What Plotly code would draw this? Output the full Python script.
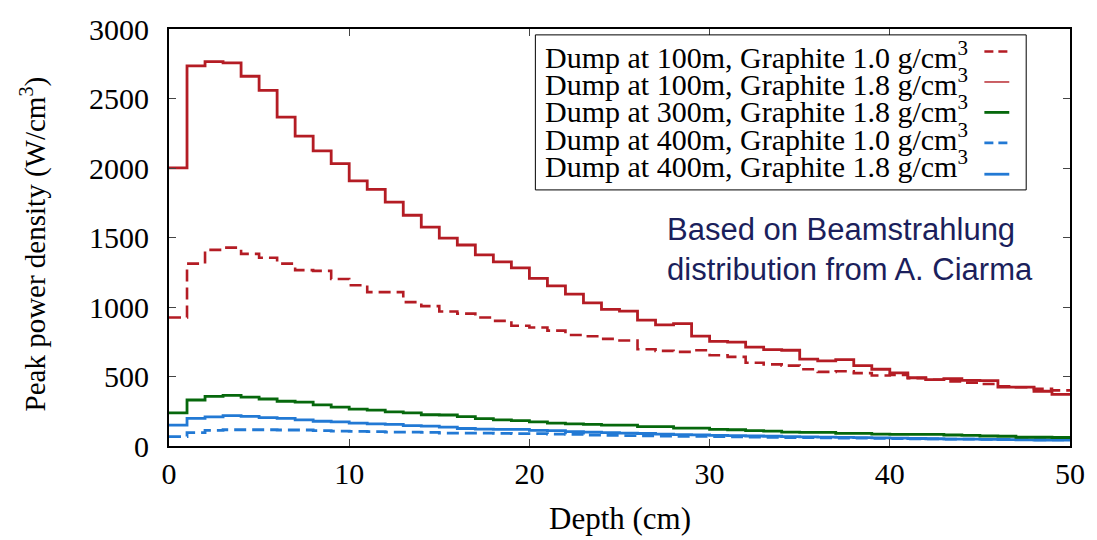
import plotly.graph_objects as go

# ---- data (bin values, 1 cm bins from 0 to 50 cm) ----
bin_edges_cm = list(range(0, 51))

red_dashed_100m_10 = [924, 1312, 1411, 1427, 1382, 1354, 1312, 1265, 1260, 1201,
                      1157, 1107, 1107, 1035, 1006, 968, 952, 924, 900, 865,
                      853, 830, 799, 790, 771, 759, 696, 684, 677, 689,
                      653, 641, 599, 587, 578, 552, 533, 538, 524, 507,
                      512, 488, 477, 465, 456, 446, 430, 423, 411, 400]

red_solid_100m_18 = [2001, 2735, 2766, 2757, 2660, 2559, 2366, 2229, 2123, 2032,
                     1907, 1846, 1754, 1660, 1575, 1495, 1446, 1375, 1324, 1281,
                     1206, 1152, 1093, 1030, 983, 971, 905, 872, 881, 790,
                     752, 747, 712, 693, 689, 625, 613, 622, 578, 552,
                     526, 491, 477, 484, 472, 470, 423, 423, 394, 371]

green_300m_18 = [239, 331, 357, 364, 352, 338, 322, 315, 296, 279,
                 265, 258, 246, 239, 225, 223, 211, 197, 188, 183,
                 174, 164, 159, 155, 150, 150, 140, 140, 129, 129,
                 119, 117, 110, 107, 100, 98, 98, 91, 91, 86,
                 84, 84, 84, 79, 77, 72, 70, 63, 63, 61]

blue_dashed_400m_10 = [68, 96, 112, 117, 117, 117, 115, 115, 110, 107,
                       105, 103, 100, 100, 98, 93, 93, 93, 91, 89,
                       89, 86, 84, 79, 77, 75, 73, 72, 70, 69,
                       67, 66, 64, 63, 61, 60, 58, 57, 56, 55,
                       54, 52, 51, 50, 49, 48, 47, 46, 45, 44]

blue_solid_400m_18 = [150, 199, 209, 218, 213, 204, 199, 188, 178, 174,
                      164, 159, 155, 147, 143, 136, 126, 121, 119, 119,
                      112, 110, 103, 100, 96, 92, 90, 86, 82, 80,
                      77, 75, 72, 70, 68, 66, 64, 62, 60, 58,
                      56, 54, 52, 50, 49, 47, 46, 44, 43, 42]

legend_labels = [
    "Dump at 100m, Graphite 1.0 g/cm<sup>3</sup>",
    "Dump at 100m, Graphite 1.8 g/cm<sup>3</sup>",
    "Dump at 300m, Graphite 1.8 g/cm<sup>3</sup>",
    "Dump at 400m, Graphite 1.0 g/cm<sup>3</sup>",
    "Dump at 400m, Graphite 1.8 g/cm<sup>3</sup>",
]
x_ticks = [0, 10, 20, 30, 40, 50]
y_ticks = [0, 500, 1000, 1500, 2000, 2500, 3000]

RED = "#b41c24"
GREEN = "#06680c"
BLUE = "#2279d4"
DASH = "12px,6px"

# series: values, color, dash, width, legend sample width
series = [
    (red_dashed_100m_10, RED, DASH, 2.6, 2.6),
    (red_solid_100m_18, RED, "solid", 2.8, 1.4),
    (green_300m_18, GREEN, "solid", 2.8, 2.8),
    (blue_dashed_400m_10, BLUE, DASH, 2.8, 2.8),
    (blue_solid_400m_18, BLUE, "solid", 2.8, 2.8),
]

# plot area in pixels
W, H = 1097, 540
L, R, T, B = 169, 1074, 21, 446


def px(xp):
    return (xp - L) / (R - L)


def py(yp):
    return (B - yp) / (B - T)


fig = go.Figure()
draw_order = [4, 3, 2, 0, 1]
for i in draw_order:
    vals, col, dash, w, _ = series[i]
    fig.add_trace(go.Scatter(
        x=bin_edges_cm, y=vals + [vals[-1]], mode="lines", line_shape="hv",
        line=dict(color=col, width=w, dash=dash), showlegend=False,
        name=legend_labels[i].replace("<sup>3</sup>", "³"),
    ))

serif = "Liberation Serif"
annotations = []
shapes = []

# legend box
shapes.append(dict(type="rect", xref="paper", yref="paper",
                   x0=px(537), x1=px(1030), y0=py(185), y1=py(27),
                   line=dict(color="black", width=1), fillcolor="white", layer="above"))
text_rows = [47, 75, 103, 131, 159]
sample_rows = [44, 75, 106, 137, 169]
for i, lab in enumerate(legend_labels):
    vals, col, dash, w, lw = series[i]
    annotations.append(dict(text=lab, xref="paper", yref="paper", x=px(545), y=py(text_rows[i]),
                            xanchor="left", yanchor="middle", showarrow=False,
                            font=dict(family=serif, size=30, color="black")))
    shapes.append(dict(type="line", xref="paper", yref="paper",
                       x0=px(988), x1=px(1013), y0=py(sample_rows[i]), y1=py(sample_rows[i]),
                       line=dict(color=col, width=lw, dash=("9px,5px" if dash != "solid" else "solid")),
                       layer="above"))

# note text
annotations.append(dict(text="Based on Beamstrahlung<br>distribution from A. Ciarma",
                        xref="paper", yref="paper", x=px(667), y=py(246),
                        xanchor="left", yanchor="middle", align="left", showarrow=False,
                        font=dict(family="Liberation Sans", size=31, color="#1b1f5c")))

# axis titles
annotations.append(dict(text="Peak power density (W/cm<sup>3</sup>)", xref="paper", yref="paper",
                        x=px(33), y=py(240), xanchor="center", yanchor="middle", textangle=-90,
                        showarrow=False, font=dict(family=serif, size=29, color="black")))
annotations.append(dict(text="Depth (cm)", xref="paper", yref="paper",
                        x=0.5, y=py(520), xanchor="center", yanchor="middle",
                        showarrow=False, font=dict(family=serif, size=31, color="black")))

axis_common = dict(showgrid=False, zeroline=False, showline=True, linecolor="black",
                   linewidth=2, mirror="ticks", ticks="inside", ticklen=7,
                   tickcolor="#444", tickwidth=1.2,
                   tickfont=dict(family=serif, size=30, color="black"))

fig.update_layout(
    width=W, height=H,
    margin=dict(l=L, r=W - R, t=T, b=H - B),
    paper_bgcolor="white", plot_bgcolor="white",
    xaxis=dict(range=[0, 50], tickvals=x_ticks, ticklabelstandoff=0, **axis_common),
    yaxis=dict(range=[0, 3000], tickvals=y_ticks, ticklabelstandoff=12, **axis_common),
    annotations=annotations, shapes=shapes,
)

fig.write_html("out.html")
